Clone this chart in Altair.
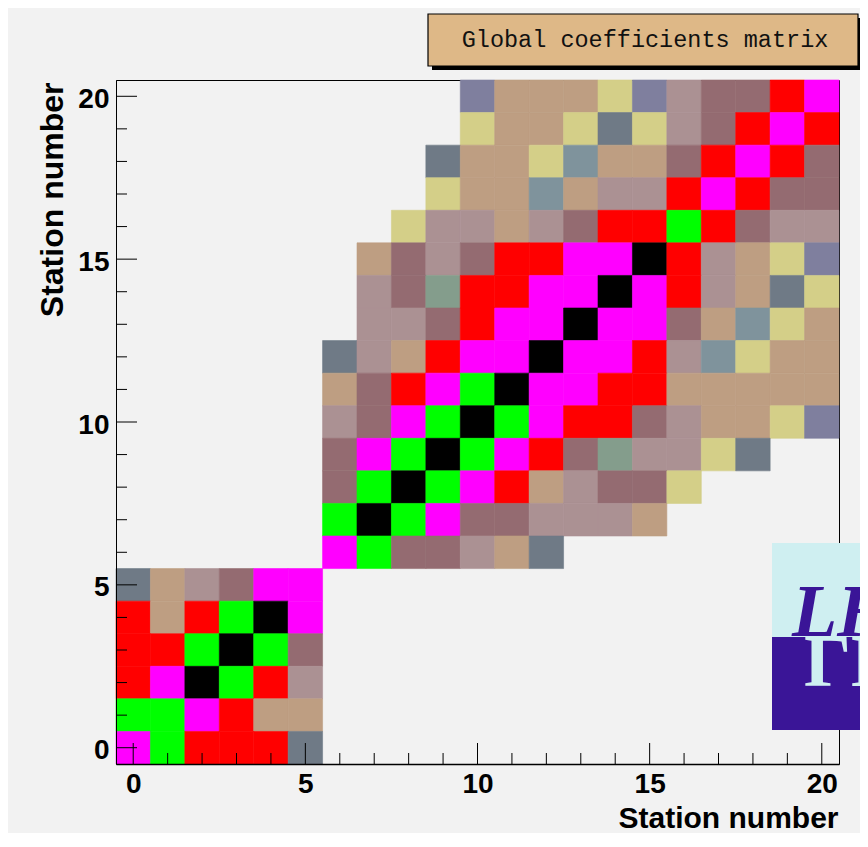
import altair as alt
import pandas as pd

# ---- data -------------------------------------------------------------
STATIONS = list(range(21))
MAJOR = [0, 5, 10, 15, 20]
MINOR = [s for s in STATIONS if s not in MAJOR]

# colour level codes and their colours (ROOT palette as rendered)
CODES = ["K", "G", "M", "R", "D", "L", "T", "Y", "S", "B", "N", "P"]
COLORS = ["#000000", "#00ff00", "#ff00ff", "#ff0000", "#946b71", "#ab9193",
          "#be9e82", "#d4cf88", "#6f7a86", "#7f939c", "#849d8c", "#7f7f9e"]

# matrix rows, station 20 first, columns station 0..20 ('.' = empty)
ROWS = [
    "..........PTTTYPLDDRM",  # 20
    "..........YTTYSYLDRMR",  # 19
    ".........STTYBTTDRMRD",  # 18
    ".........YTTBTLLRMRDD",  # 17
    "........YLLTLDRRGRDLL",  # 16
    ".......TDLDRRMMKRLTYP",  # 15
    ".......LDNRRMMKMRLTSY",  # 14
    ".......LLDRMMKMMDTBYT",  # 13
    "......SLTRMMKMMRLBYTT",  # 12
    "......TDRMGKMMRRTTTTT",  # 11
    "......LDMGKGMRRDLTTYP",  # 10
    "......DMGKGMRDNLLYS..",  # 9
    "......DGKGMRTLDDY....",  # 8
    "......GKGMDDLLLT.....",  # 7
    "......MGDDLTS........",  # 6
    "STLDMM...............",  # 5
    "RTRGKM...............",  # 4
    "RRGKGD...............",  # 3
    "RMKGRL...............",  # 2
    "GGMRTT...............",  # 1
    "MGRRRS...............",  # 0
]

TITLE = "Global coefficients matrix"
AXIS_TITLE = "Station number"

records = []
for i, row in enumerate(ROWS):
    r = 20 - i
    for c, ch in enumerate(row):
        if ch != ".":
            records.append({"col": c, "row": r, "code": ch})
cells_df = pd.DataFrame(records)

# ---- scales / axes -----------------------------------------------------
W, H = 723, 684
xscale = alt.Scale(domain=[-0.5, 20.5], nice=False, zero=False)
yscale = alt.Scale(domain=[-0.5, 20.5], nice=False, zero=False)

common = dict(values=MAJOR, tickSize=0, grid=False, labelFont="Liberation Sans",
              labelFontSize=28, labelFontWeight="bold", labelColor="black",
              labelFlush=False, labelOverlap=False,
              domainColor="black", zindex=1, title=AXIS_TITLE,
              titleFont="Liberation Sans", titleFontWeight="bold",
              titleColor="black")

xaxis = alt.Axis(**common, labelPadding=6, domainWidth=1.5, titleFontSize=30,
                 titleAnchor="end", titleAlign="right",
                 titleBaseline="alphabetic", titleX=W - 1, titleY=63)
yaxis = alt.Axis(**common, labelPadding=7, labelOffset=3, domainWidth=1,
                 titleFontSize=32, titleAngle=270, titleAlign="right",
                 titleBaseline="alphabetic", titleX=-54, titleY=2)

color_scale = alt.Scale(domain=CODES, range=COLORS)

cells = alt.Chart(cells_df).transform_calculate(
    x0="datum.col - 0.5", x1="datum.col + 0.5",
    y0="datum.row - 0.5", y1="datum.row + 0.5",
).mark_rect(strokeWidth=0.6).encode(
    x=alt.X("x0:Q", scale=xscale, axis=xaxis),
    x2="x1:Q",
    y=alt.Y("y0:Q", scale=yscale, axis=yaxis),
    y2="y1:Q",
    color=alt.Color("code:N", scale=color_scale, legend=None),
    stroke=alt.Stroke("code:N", scale=color_scale, legend=None),
)

minor_df = pd.DataFrame({"v": MINOR})
major_df = pd.DataFrame({"v": MAJOR})

def xticks(df, length):
    return alt.Chart(df).mark_rule(color="black", strokeWidth=1).encode(
        x=alt.X("v:Q", scale=xscale, axis=xaxis),
        y=alt.value(H), y2=alt.value(H - length))

def yticks(df, length):
    return alt.Chart(df).mark_rule(color="black", strokeWidth=1).encode(
        y=alt.Y("v:Q", scale=yscale, axis=yaxis),
        x=alt.value(0), x2=alt.value(length))

one = pd.DataFrame({"a": [0]})

# LHCb logo (clipped at the chart edge as in the reference)
logo_top = alt.Chart(one).mark_rect(color="#cfeff1").encode(
    x=alt.value(656), x2=alt.value(760), y=alt.value(463), y2=alt.value(557))
logo_bot = alt.Chart(one).mark_rect(color="#3a1597").encode(
    x=alt.value(656), x2=alt.value(760), y=alt.value(557), y2=alt.value(650))
logo_txt = alt.Chart(one).mark_text(
    text="LH", font="Liberation Serif", fontSize=74, fontStyle="italic",
    fontWeight="bold", color="#3a1597", align="left", baseline="alphabetic"
).encode(x=alt.value(676), y=alt.value(556))
logo_ref = alt.Chart(one).mark_text(
    text="ΓH", font="Liberation Serif", fontSize=74, fontWeight="bold",
    color="#cfeff1", align="left", baseline="alphabetic"
).encode(x=alt.value(688), y=alt.value(606))

# title box
shadow = alt.Chart(one).mark_rect(color="black").encode(
    x=alt.value(316), x2=alt.value(760), y=alt.value(-62), y2=alt.value(-10))
box = alt.Chart(one).mark_rect(fill="#deb887", stroke="black", strokeWidth=1.2).encode(
    x=alt.value(312), x2=alt.value(742), y=alt.value(-66), y2=alt.value(-14))
title_txt = alt.Chart(one).mark_text(
    text=TITLE, font="Liberation Mono", fontSize=23.5, color="#111111",
    align="center", baseline="middle"
).encode(x=alt.value(529), y=alt.value(-40))

chart = alt.layer(
    cells,
    xticks(minor_df, 11), xticks(major_df, 21),
    yticks(minor_df, 11), yticks(major_df, 21),
    logo_top, logo_bot, logo_txt, logo_ref,
    shadow, box, title_txt,
).properties(
    width=W, height=H,
    autosize=alt.AutoSizeParams(type="none"),
    padding={"left": 108, "top": 72, "right": 21, "bottom": 69},
    background="#f2f2f2",
).configure_view(stroke="black", strokeWidth=1)

chart.save("out.html", embed_options={"renderer": "svg", "actions": False})
